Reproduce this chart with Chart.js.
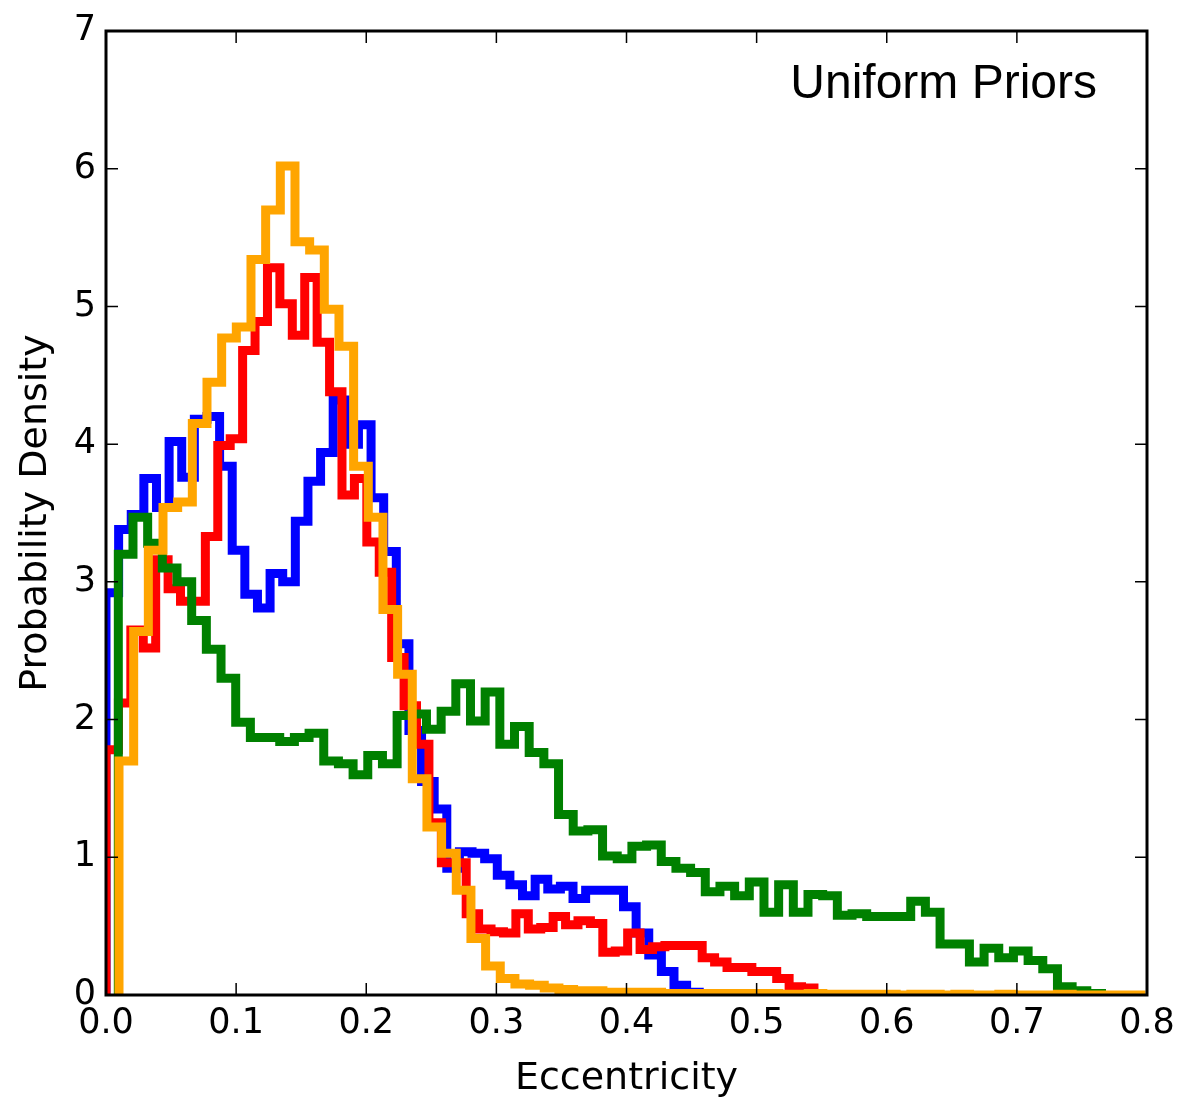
<!DOCTYPE html>
<html>
<head>
<meta charset="utf-8">
<title>Eccentricity</title>
<script src="https://cdn.jsdelivr.net/npm/chart.js@4.4.1/dist/chart.umd.min.js"></script>
<style>
  html, body { margin: 0; padding: 0; background: #fff; }
  #graphique { display: block; }
</style>
</head>
<body>
<canvas id="graphique" width="1187" height="1103"></canvas>
<script>
// Histograms of eccentricity (probability density per bin)
const xTicks = [0.0, 0.1, 0.2, 0.3, 0.4, 0.5, 0.6, 0.7, 0.8];
const yTicks = [0, 1, 2, 3, 4, 5, 6, 7];

// first bin edge and bin width of each histogram
const blueBins = [0.0, 0.009700];
const redBins = [0.0, 0.009545];
const greenBins = [0.00946, 0.011277];
const orangeBins = [0.0100, 0.011269];

const blueDensity = [2.92, 3.38, 3.49, 3.75, 3.54, 4.02, 3.76, 4.18, 4.20, 3.84,
  3.23, 2.91, 2.81, 3.06, 3.00, 3.44, 3.73, 3.94, 4.32, 4.00,
  4.14, 3.61, 3.22, 2.55, 1.92, 1.55, 1.35, 0.92, 1.04, 1.03,
  0.99, 0.87, 0.80, 0.72, 0.84, 0.77, 0.79, 0.70, 0.76, 0.76,
  0.76, 0.64, 0.45, 0.29, 0.17, 0.07, 0.02, 0.01];

const redDensity = [1.78, 2.12, 2.65, 2.52, 3.16, 2.95, 2.86, 2.86, 3.33, 3.99,
  4.04, 4.68, 4.89, 5.28, 5.02, 4.79, 5.21, 4.74, 4.38, 3.63,
  3.75, 3.29, 3.07, 2.45, 2.10, 1.82, 1.25, 0.96, 0.96, 0.59,
  0.48, 0.46, 0.45, 0.59, 0.48, 0.49, 0.57, 0.51, 0.54, 0.52,
  0.31, 0.32, 0.45, 0.33, 0.35, 0.36, 0.36, 0.36, 0.27, 0.24,
  0.20, 0.20, 0.17, 0.17, 0.12, 0.06, 0.05];

const greenDensity = [3.20, 3.47, 3.28, 3.10, 3.00, 2.72, 2.51, 2.30, 1.98,
  1.87, 1.87, 1.84, 1.87, 1.90, 1.70, 1.68, 1.60, 1.74, 1.68,
  2.03, 2.04, 1.93, 2.06, 2.26, 1.99, 2.20, 1.82, 1.95, 1.76,
  1.68, 1.31, 1.19, 1.20, 1.01, 0.99, 1.08, 1.09, 0.97, 0.92,
  0.89, 0.75, 0.79, 0.72, 0.82, 0.60, 0.80, 0.60, 0.73, 0.72,
  0.58, 0.59, 0.57, 0.57, 0.57, 0.68, 0.60, 0.37, 0.37, 0.24,
  0.34, 0.27, 0.32, 0.25, 0.19, 0.06, 0.03, 0.01];

const orangeDensity = [1.70, 2.64, 3.23, 3.54, 3.58, 4.15, 4.45, 4.77, 4.85, 5.34,
  5.70, 6.02, 5.47, 5.41, 4.98, 4.71, 3.84, 3.47, 2.80, 2.33,
  1.57, 1.22, 1.03, 0.76, 0.41, 0.21, 0.12, 0.08, 0.07, 0.05,
  0.04, 0.03, 0.03, 0.02, 0.02, 0.02, 0.02, 0.01, 0.01, 0.01,
  0.01, 0.01, 0.01, 0.01, 0.01, 0.005, 0.005, 0.01, 0.005, 0.005,
  0.005, 0.005, 0.005, 0, 0.005, 0.005, 0, 0.005, 0, 0,
  0.005, 0, 0, 0, 0.005, 0, 0, 0, 0, 0];

// Outline of a step histogram: up at the first edge, across each bin, down at the last edge
function contourHisto(bins, densite) {
  const [debut, largeur] = bins;
  const points = [{ x: debut, y: 0 }];
  densite.forEach((v, i) => {
    points.push({ x: debut + i * largeur, y: v });
    points.push({ x: debut + (i + 1) * largeur, y: v });
  });
  points.push({ x: debut + densite.length * largeur, y: 0 });
  return points;
}

function serie(bins, densite, couleur, ordre) {
  return {
    data: contourHisto(bins, densite),
    borderColor: couleur,
    borderWidth: 9,
    borderJoinStyle: "miter",
    pointRadius: 0,
    tension: 0,
    fill: false,
    clip: 0,
    order: ordre
  };
}

// Frame, inward tick marks and the label in the top right corner
const cadre = {
  id: "cadre",
  afterDatasetsDraw(chart) {
    const { ctx, chartArea: a, scales: { x, y } } = chart;
    ctx.save();
    ctx.strokeStyle = "#000";
    ctx.lineWidth = 1.5;
    ctx.beginPath();
    for (const v of xTicks) {
      const px = x.getPixelForValue(v);
      ctx.moveTo(px, a.bottom);
      ctx.lineTo(px, a.bottom - 12);
      ctx.moveTo(px, a.top);
      ctx.lineTo(px, a.top + 12);
    }
    for (const v of yTicks) {
      const py = y.getPixelForValue(v);
      ctx.moveTo(a.left, py);
      ctx.lineTo(a.left + 12, py);
      ctx.moveTo(a.right, py);
      ctx.lineTo(a.right - 12, py);
    }
    ctx.stroke();
    ctx.lineWidth = 3;
    ctx.strokeRect(a.left, a.top, a.right - a.left, a.bottom - a.top);
    ctx.fillStyle = "#000";
    ctx.font = '48px "Liberation Sans"';
    ctx.textAlign = "right";
    ctx.textBaseline = "alphabetic";
    ctx.fillText("Uniform Priors", a.right - 50, a.top + 67);
    ctx.restore();
  }
};

const police = { family: "DejaVu Sans", size: 35 };

const graphique = new Chart(document.querySelector("#graphique"), {
  type: "line",
  data: {
    datasets: [
      serie(blueBins, blueDensity, "#0000ff", 4),
      serie(redBins, redDensity, "#ff0000", 3),
      serie(greenBins, greenDensity, "#008000", 2),
      serie(orangeBins, orangeDensity, "#ffa500", 1)
    ]
  },
  options: {
    responsive: false,
    animation: false,
    devicePixelRatio: 1,
    layout: { padding: { top: 29, right: 40, left: 0, bottom: 0 } },
    plugins: {
      legend: { display: false },
      tooltip: { enabled: false }
    },
    scales: {
      x: {
        type: "linear",
        min: 0,
        max: 0.8,
        afterFit: (scale) => { scale.height = 108; },
        afterBuildTicks: (scale) => { scale.ticks = xTicks.map(v => ({ value: v })); },
        grid: { display: false, drawTicks: false },
        border: { display: false },
        ticks: {
          padding: 8,
          maxRotation: 0,
          autoSkip: false,
          color: "#000",
          font: police,
          callback: (v) => Number(v).toFixed(1)
        },
        title: {
          display: true,
          text: "Eccentricity",
          color: "#000",
          font: { family: "DejaVu Sans", size: 38 },
          padding: { top: 0, bottom: 1 }
        }
      },
      y: {
        type: "linear",
        min: 0,
        max: 7,
        afterFit: (scale) => { scale.width = 106; },
        afterBuildTicks: (scale) => { scale.ticks = yTicks.map(v => ({ value: v })); },
        grid: { display: false, drawTicks: false },
        border: { display: false },
        ticks: {
          padding: 10,
          autoSkip: false,
          color: "#000",
          font: police,
          callback: (v) => String(v)
        },
        title: {
          display: true,
          text: "Probability Density",
          color: "#000",
          font: { family: "DejaVu Sans", size: 38 },
          padding: { top: 13, bottom: 0 }
        }
      }
    }
  },
  plugins: [cadre]
});
</script>
</body>
</html>
